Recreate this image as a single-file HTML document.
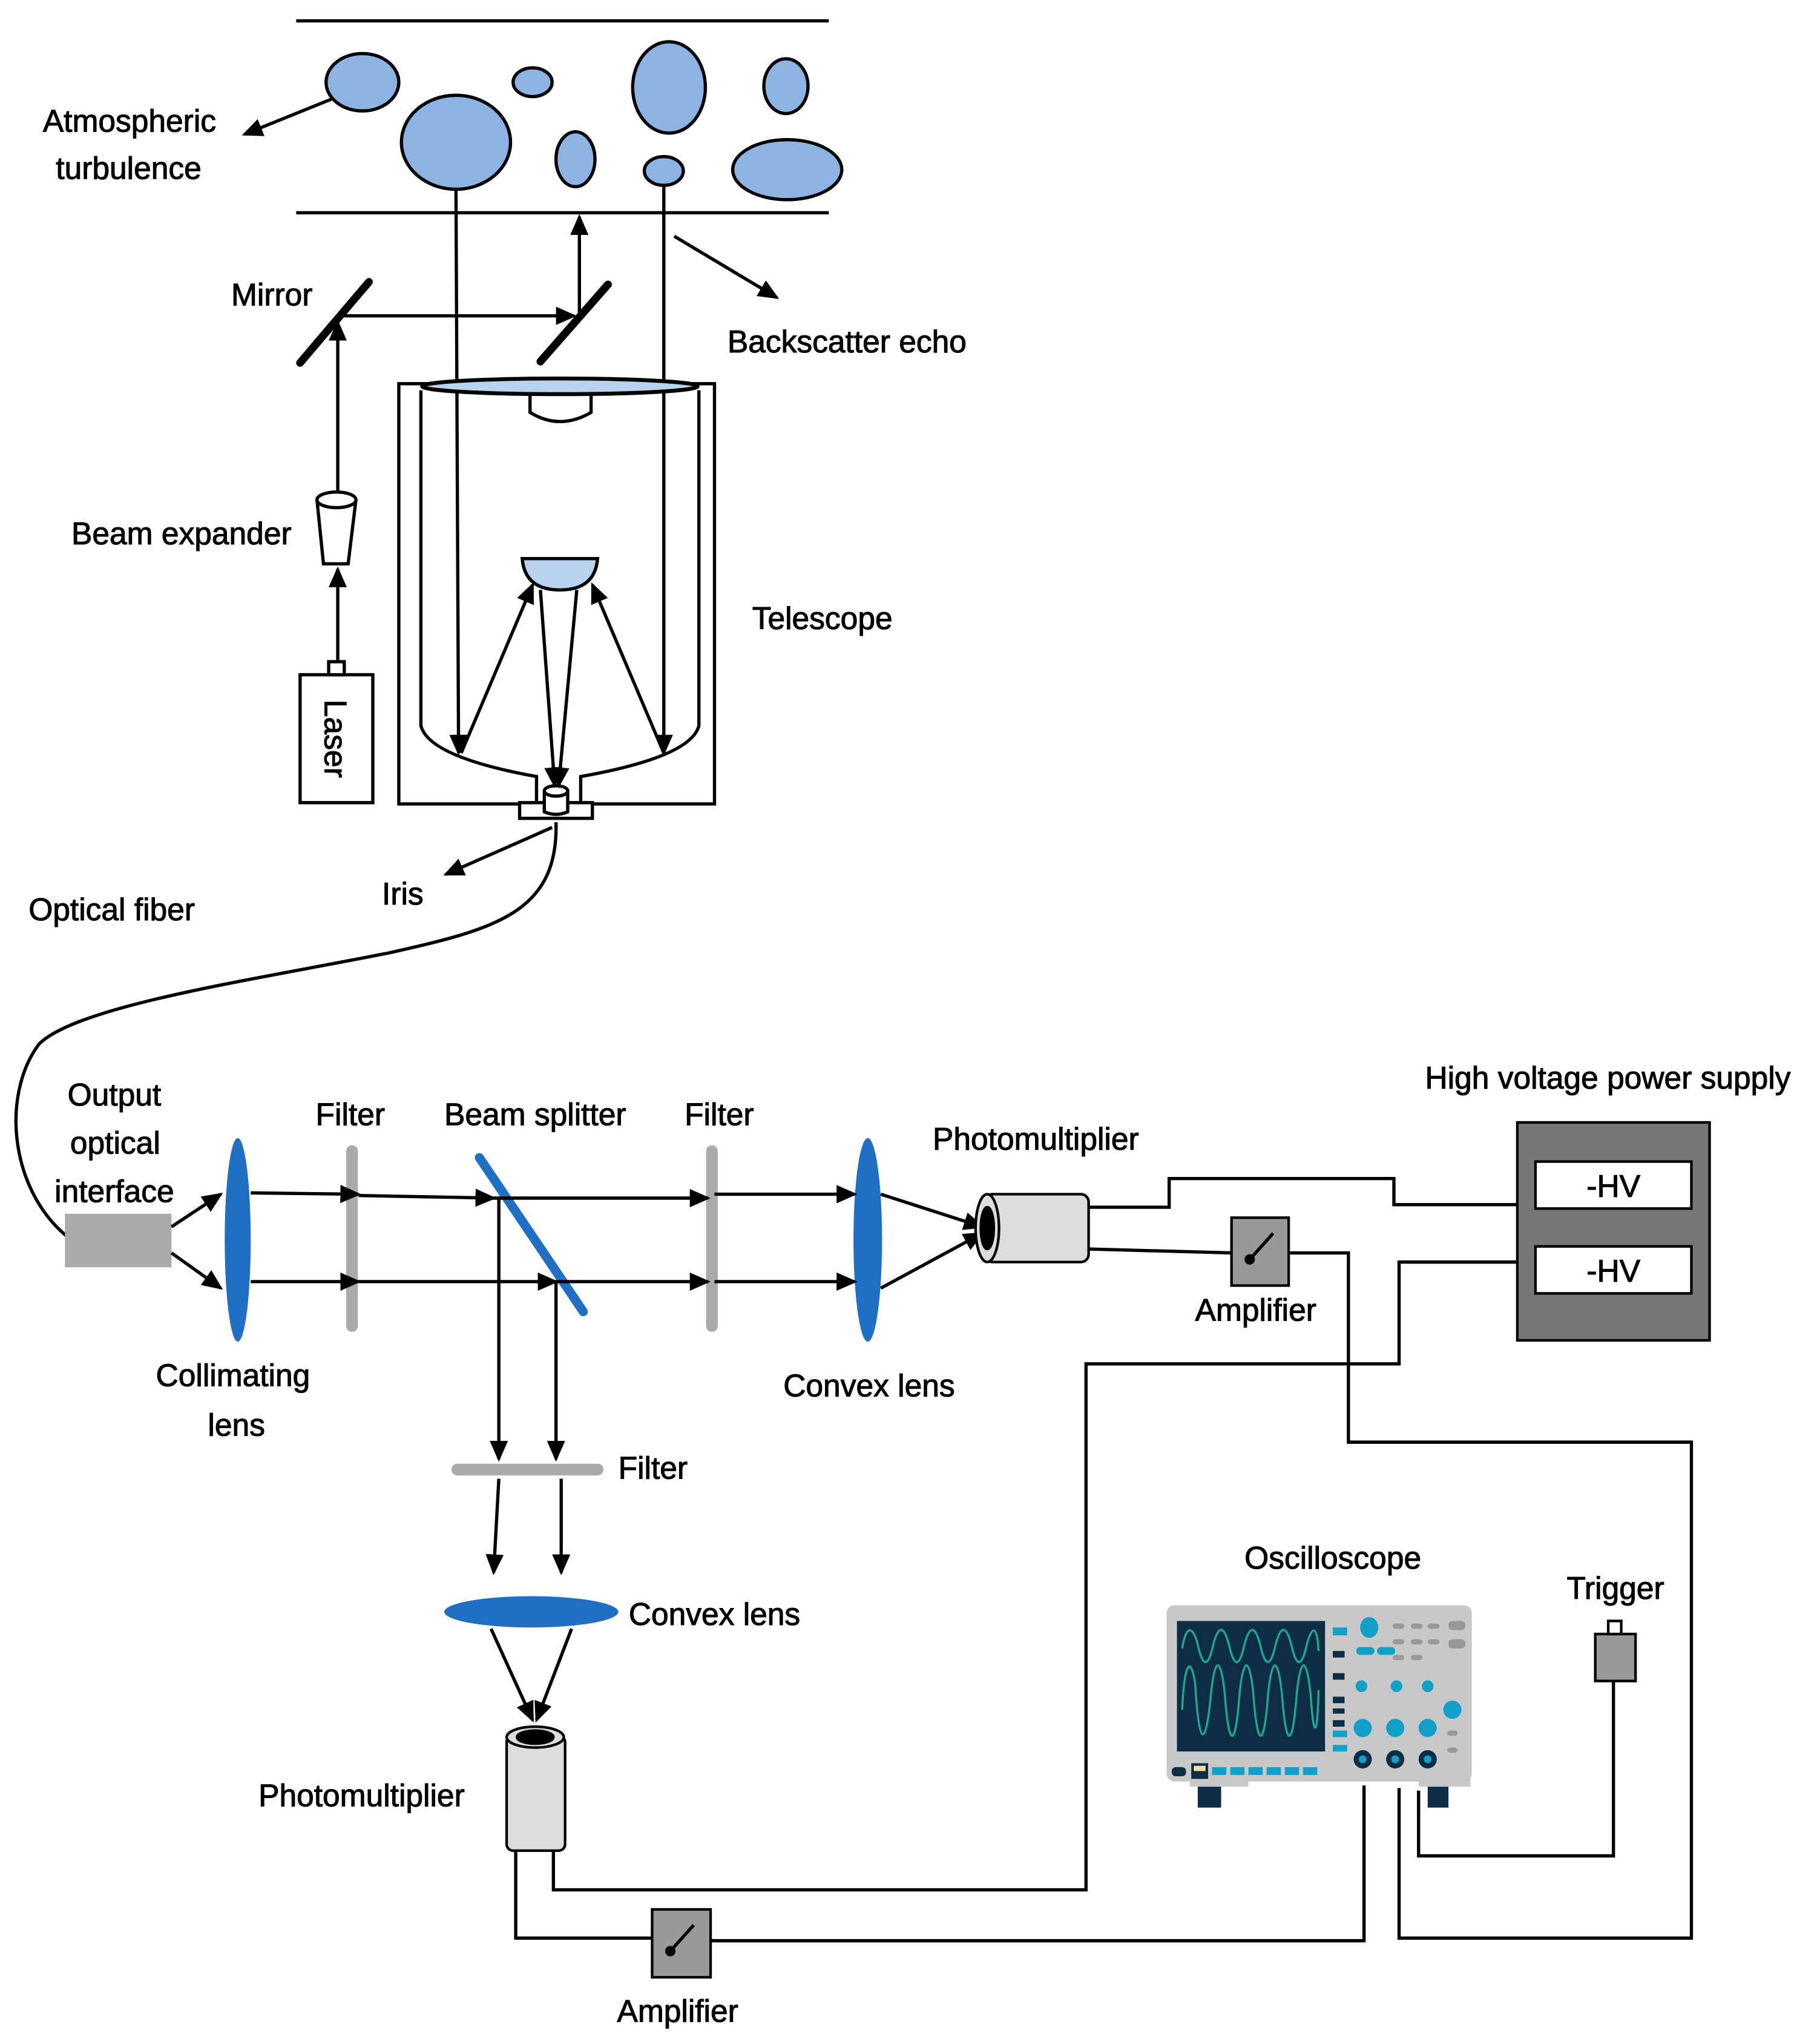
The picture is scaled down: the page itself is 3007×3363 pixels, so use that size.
<!DOCTYPE html>
<html><head><meta charset="utf-8"><style>html,body{margin:0;padding:0;background:#fff}svg{display:block}text{font-family:"Liberation Sans",sans-serif;font-size:24px;fill:#000;stroke:#000;stroke-width:0.5}</style></head>
<body>
<svg width="3007" height="3363" viewBox="0 0 1401 1560" preserveAspectRatio="none" xmlns="http://www.w3.org/2000/svg">
<defs>
<marker id="a" markerWidth="16" markerHeight="14" refX="14" refY="7" orient="auto" markerUnits="userSpaceOnUse"><path d="M0,0 L16,7 L0,14 Z" fill="#000"/></marker>
</defs>
<g stroke="#000" stroke-width="2.5" fill="none">
<line x1="228" y1="16" x2="638" y2="16"/><line x1="228" y1="163" x2="638" y2="163"/>
</g>
<g fill="#8db3e2" stroke="#000" stroke-width="2.5">
<ellipse cx="279" cy="63" rx="28" ry="22"/><ellipse cx="351" cy="109" rx="42" ry="36"/><ellipse cx="410" cy="63" rx="15" ry="11"/><ellipse cx="443" cy="122" rx="15" ry="21"/><ellipse cx="515" cy="67" rx="28" ry="35"/><ellipse cx="511" cy="131" rx="15" ry="11"/><ellipse cx="605" cy="66" rx="17" ry="21"/><ellipse cx="606" cy="130" rx="42" ry="23"/>
</g>
<g stroke="#000" stroke-width="2.5" fill="none">
<rect x="307" y="294" width="243" height="322" fill="#fff"/>
<path d="M324,299 L324,556 Q330,580 413,595 L413,616"/>
<path d="M538,299 L538,556 Q532,580 447,595 L447,616"/>
<path d="M408,300 L408,316 Q431,330 455,316 L455,300" fill="#fff"/>
<path d="M402,428 L460,428 Q458,452 431,452 Q404,452 402,428 Z" fill="#b7d3ef"/>
<rect x="400" y="615" width="56" height="12" fill="#fff"/>
<path d="M419,606 L419,622 Q428,626 437,622 L437,606" fill="#fff"/>
<ellipse cx="428" cy="606" rx="9" ry="4" fill="#fff"/>
<rect x="231" y="517" width="56" height="98" fill="#fff"/>
<rect x="253" y="507" width="12" height="10" fill="#fff"/>
<path d="M244,383 L249,432 L268,432 L274,383" fill="#fff"/>
<ellipse cx="259" cy="383" rx="15" ry="6" fill="#fff"/>
<path d="M428,630 C430,700 380,712 300,730 C200,750 60,770 30,800 C0,840 8,915 55,950"/>
</g>
<g stroke="#000" stroke-width="2.5" fill="none" marker-end="url(#a)">
<line x1="255" y1="76" x2="188" y2="103"/>
<line x1="351" y1="145" x2="353" y2="577"/>
<line x1="511" y1="142" x2="511" y2="577"/>
<line x1="446" y1="240" x2="446" y2="166"/>
<line x1="519" y1="181" x2="598" y2="228"/>
<line x1="260" y1="242" x2="442" y2="242"/>
<line x1="260" y1="376" x2="260" y2="247"/>
<line x1="260" y1="507" x2="260" y2="436"/>
<line x1="355" y1="577" x2="410" y2="448"/>
<line x1="511" y1="577" x2="456" y2="448"/>
<line x1="416" y1="452" x2="427" y2="602"/>
<line x1="444" y1="452" x2="430" y2="602"/>
<line x1="425" y1="634" x2="343" y2="670"/>
</g>
<ellipse cx="431" cy="296" rx="106" ry="6" fill="#b7d3ef" stroke="#000" stroke-width="3"/>
<g stroke="#000" stroke-width="6" stroke-linecap="round"><line x1="231" y1="278" x2="284" y2="216"/><line x1="416" y1="277" x2="468" y2="218"/></g>
<text x="33" y="101">Atmospheric</text><text x="43" y="137">turbulence</text>
<text x="178" y="234">Mirror</text><text x="560" y="270">Backscatter echo</text>
<text x="55" y="417">Beam expander</text><text x="579" y="482">Telescope</text>
<text x="294" y="693">Iris</text><text x="22" y="705">Optical fiber</text>
<text transform="translate(250,566) rotate(90)" text-anchor="middle">Laser</text>
<text x="52" y="847">Output</text><text x="54" y="884">optical</text><text x="42" y="921">interface</text>
<rect x="50" y="930" width="82" height="41" fill="#aaa"/>
<text x="120" y="1062">Collimating</text><text x="160" y="1100">lens</text>
<text x="243" y="862">Filter</text><text x="342" y="862">Beam splitter</text><text x="527" y="862">Filter</text>
<text x="718" y="881">Photomultiplier</text><text x="603" y="1070">Convex lens</text>
<text x="1097" y="834">High voltage power supply</text>
<text x="920" y="1012">Amplifier</text>
<text x="476" y="1133">Filter</text><text x="484" y="1245">Convex lens</text>
<text x="199" y="1384">Photomultiplier</text><text x="475" y="1549">Amplifier</text>
<text x="958" y="1202">Oscilloscope</text><text x="1206" y="1225">Trigger</text>
<g stroke="#aaa" stroke-width="9" stroke-linecap="round"><line x1="271" y1="882" x2="271" y2="1016"/><line x1="548" y1="882" x2="548" y2="1016"/><line x1="352" y1="1126" x2="460" y2="1126"/></g>
<line x1="369" y1="887" x2="449" y2="1005" stroke="#1f6fc5" stroke-width="7" stroke-linecap="round"/>
<ellipse cx="183" cy="950" rx="10" ry="78" fill="#1f6fc5"/>
<ellipse cx="668" cy="950" rx="11" ry="78" fill="#1f6fc5"/>
<ellipse cx="409" cy="1235" rx="67" ry="12" fill="#1f6fc5"/>
<g stroke="#000" stroke-width="2.5" fill="none" marker-end="url(#a)">
<line x1="132" y1="940" x2="170" y2="915"/><line x1="132" y1="960" x2="170" y2="987"/>
<line x1="193" y1="914" x2="276" y2="915"/><line x1="276" y1="916" x2="380" y2="918"/><line x1="380" y1="918" x2="545" y2="918"/><line x1="550" y1="915" x2="658" y2="915"/>
<line x1="193" y1="982" x2="276" y2="982"/><line x1="276" y1="982" x2="428" y2="982"/><line x1="428" y1="982" x2="545" y2="982"/><line x1="550" y1="982" x2="658" y2="982"/>
<line x1="384" y1="918" x2="384" y2="1118"/><line x1="428" y1="982" x2="428" y2="1118"/>
<line x1="678" y1="915" x2="756" y2="940"/><line x1="678" y1="987" x2="756" y2="945"/>
<line x1="384" y1="1133" x2="380" y2="1205"/><line x1="432" y1="1133" x2="432" y2="1205"/>
<line x1="378" y1="1248" x2="410" y2="1318"/><line x1="440" y1="1248" x2="413" y2="1318"/>
</g>
<g stroke="#000" stroke-width="2">
<rect x="758" y="915" width="80" height="52" fill="#ddd" rx="6"/>
<ellipse cx="760" cy="941" rx="9" ry="26" fill="#ddd"/>
<ellipse cx="760" cy="941" rx="5" ry="16" fill="#000"/>
<rect x="390" y="1330" width="45" height="88" fill="#ddd" rx="5"/>
<ellipse cx="412" cy="1331" rx="22" ry="8" fill="#ddd"/>
<ellipse cx="412" cy="1331" rx="14" ry="5" fill="#000"/>
</g>
<g stroke="#000" stroke-width="2.5" fill="none">
<polyline points="838,925 900,925 900,903 1073,903 1073,923 1168,923"/>
<polyline points="838,957 948,960"/>
<polyline points="992,960 1038,960 1038,1105 1302,1105 1302,1485 1077,1485 1077,1370"/>
<polyline points="1168,967 1077,967 1077,1045 836,1045 836,1448 426,1448 426,1418"/>
<polyline points="397,1418 397,1485 502,1485"/>
<polyline points="547,1487 1050,1487 1050,1368"/>
<polyline points="1092,1372 1092,1422 1242,1422 1242,1288"/>
</g>
<rect x="1168" y="860" width="148" height="167" fill="#777" stroke="#000" stroke-width="2"/>
<rect x="1182" y="890" width="120" height="36" fill="#fff" stroke="#000" stroke-width="2"/>
<rect x="1182" y="955" width="120" height="36" fill="#fff" stroke="#000" stroke-width="2"/>
<text x="1242" y="917" text-anchor="middle">-HV</text><text x="1242" y="982" text-anchor="middle">-HV</text>
<g stroke="#000" stroke-width="2">
<rect x="948" y="933" width="44" height="52" fill="#999"/>
<rect x="502" y="1463" width="45" height="52" fill="#999"/>
<rect x="1228" y="1252" width="31" height="36" fill="#999"/>
<rect x="1238" y="1242" width="10" height="10" fill="#fff"/>
</g>
<g stroke="#000" stroke-width="2.5"><line x1="962" y1="965" x2="980" y2="945"/><line x1="516" y1="1495" x2="534" y2="1475"/></g>
<circle cx="962" cy="965" r="4"/><circle cx="516" cy="1495" r="4"/>
<rect x="922" y="1360" width="18" height="25" fill="#0d2d45"/><rect x="1099" y="1360" width="16" height="25" fill="#0d2d45"/>
<rect x="916" y="1355" width="45" height="14" fill="#c8c8c8"/><rect x="1092" y="1355" width="40" height="14" fill="#c8c8c8"/>
<rect x="898" y="1230" width="235" height="135" rx="6" fill="#c8c8c8"/>
<rect x="906" y="1242" width="114" height="100" fill="#0d2d45"/>
<path d="M910,1263 C913,1245 918,1245 922,1260 C926,1278 930,1278 934,1260 C938,1245 942,1245 946,1260 C950,1278 954,1278 958,1260 C962,1245 966,1245 970,1260 C974,1278 978,1278 982,1260 C986,1245 990,1245 994,1260 C998,1278 1002,1278 1006,1260 C1010,1245 1014,1245 1015,1265" stroke="#1fa88f" stroke-width="1.6" fill="none"/>
<path d="M910,1310 C912,1270 917,1270 920,1290 C923,1340 928,1340 932,1300 C935,1268 940,1268 943,1300 C946,1340 951,1340 954,1300 C957,1268 962,1268 965,1300 C968,1340 973,1340 976,1300 C979,1268 984,1268 987,1300 C990,1340 995,1340 998,1300 C1001,1268 1006,1268 1009,1300 C1011,1330 1014,1335 1015,1295" stroke="#1fa88f" stroke-width="1.6" fill="none"/>
<g fill="#12a0c8"><rect x="1026" y="1247" width="11" height="6"/><rect x="1026" y="1326" width="11" height="5"/><rect x="1026" y="1337" width="11" height="5"/><rect x="1044" y="1262" width="14" height="6" rx="3"/><rect x="1060" y="1262" width="14" height="6" rx="3"/>
<rect x="933" y="1354" width="11" height="6"/><rect x="947" y="1354" width="11" height="6"/><rect x="961" y="1354" width="11" height="6"/><rect x="975" y="1354" width="11" height="6"/><rect x="989" y="1354" width="11" height="6"/><rect x="1003" y="1354" width="11" height="6"/>
<ellipse cx="1054" cy="1247" rx="7" ry="8"/><circle cx="1048" cy="1292" r="4.5"/><circle cx="1075" cy="1292" r="4.5"/><circle cx="1099" cy="1292" r="4.5"/><circle cx="1118" cy="1310" r="7"/><circle cx="1049" cy="1324" r="7"/><circle cx="1074" cy="1324" r="7"/><circle cx="1099" cy="1324" r="7"/></g>
<g fill="#0d2d45"><rect x="1026" y="1265" width="9" height="5"/><rect x="1026" y="1282" width="9" height="5"/><rect x="1026" y="1300" width="9" height="5"/><rect x="1026" y="1318" width="9" height="5"/><rect x="1026" y="1309" width="9" height="4"/><rect x="902" y="1354" width="11" height="7" rx="3"/><rect x="917" y="1351" width="13" height="12"/>
<circle cx="1049" cy="1348" r="7"/><circle cx="1074" cy="1348" r="7"/><circle cx="1099" cy="1348" r="7"/></g>
<g fill="#12a0c8"><circle cx="1049" cy="1348" r="3"/><circle cx="1074" cy="1348" r="3"/><circle cx="1099" cy="1348" r="3"/></g>
<rect x="919" y="1353" width="9" height="4" fill="#f0e0a0"/>
<g fill="#999"><rect x="1072" y="1244" width="9" height="4" rx="2"/><rect x="1086" y="1244" width="9" height="4" rx="2"/><rect x="1099" y="1244" width="9" height="4" rx="2"/><rect x="1072" y="1256" width="9" height="4" rx="2"/><rect x="1086" y="1256" width="9" height="4" rx="2"/><rect x="1099" y="1256" width="9" height="4" rx="2"/><rect x="1072" y="1268" width="9" height="4" rx="2"/><rect x="1086" y="1268" width="9" height="4" rx="2"/><rect x="1115" y="1242" width="13" height="7" rx="3"/><rect x="1115" y="1256" width="13" height="7" rx="3"/><rect x="1114" y="1326" width="8" height="4" rx="2"/><rect x="1114" y="1339" width="8" height="4" rx="2"/></g>
</svg>
</body></html>
